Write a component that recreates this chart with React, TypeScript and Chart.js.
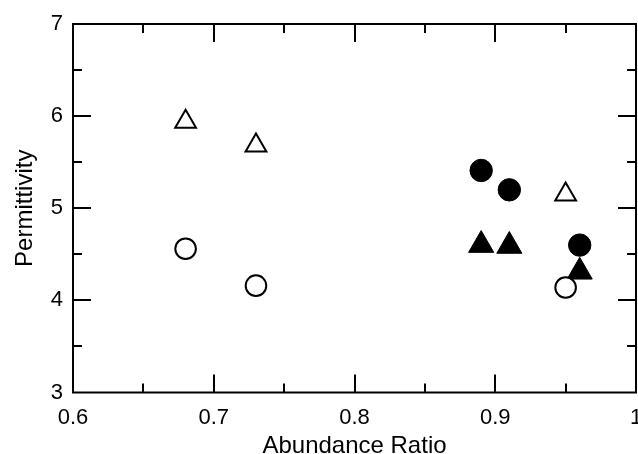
import React, { useEffect, useRef } from "react";
import { Chart, registerables } from "chart.js";

Chart.register(...registerables);

const openCircleX = [0.68, 0.73, 0.95];
const openCircleY = [4.56, 4.16, 4.14];
const openTriangleX = [0.68, 0.73, 0.95];
const openTriangleY = [5.94, 5.68, 5.15];
const filledCircleX = [0.89, 0.91, 0.96];
const filledCircleY = [5.41, 5.2, 4.6];
const filledTriangleX = [0.89, 0.91, 0.96];
const filledTriangleY = [4.6, 4.59, 4.31];

const xTickValues = [0.6, 0.7, 0.8, 0.9, 1.0];
const xTickLabels = ["0.6", "0.7", "0.8", "0.9", "1"];
const xMinorTicks = [0.65, 0.75, 0.85, 0.95];
const yTickValues = [3, 4, 5, 6, 7];
const yTickLabels = ["3", "4", "5", "6", "7"];
const yMinorTicks = [3.5, 4.5, 5.5, 6.5];

const xTitle = "Abundance Ratio";
const yTitle = "Permittivity";

const FONT = "'Liberation Sans', Arial, Helvetica, sans-serif";

const toPoints = (xs: number[], ys: number[]) => xs.map((x, i) => ({ x, y: ys[i] }));

const framePlugin = {
  id: "frame",
  afterDraw(chart: any) {
    const { ctx, chartArea } = chart;
    const { left, right, top, bottom } = chartArea;
    const xs = chart.scales.x;
    const ys = chart.scales.y;
    ctx.save();
    ctx.strokeStyle = "#000";
    ctx.lineWidth = 2;
    ctx.strokeRect(left, top, right - left, bottom - top);
    ctx.beginPath();
    const major = 18;
    const minor = 9;
    const xt = (vals: number[], len: number) => {
      for (const v of vals) {
        const px = Math.round(xs.getPixelForValue(v));
        ctx.moveTo(px, bottom);
        ctx.lineTo(px, bottom - len);
        ctx.moveTo(px, top);
        ctx.lineTo(px, top + len);
      }
    };
    const yt = (vals: number[], len: number) => {
      for (const v of vals) {
        const py = Math.round(ys.getPixelForValue(v));
        ctx.moveTo(left, py);
        ctx.lineTo(left + len, py);
        ctx.moveTo(right, py);
        ctx.lineTo(right - len, py);
      }
    };
    xt(xTickValues.slice(1, -1), major);
    xt(xMinorTicks, minor);
    yt(yTickValues.slice(1, -1), major);
    yt(yMinorTicks, minor);
    ctx.stroke();
    ctx.restore();
  },
};

export default function App() {
  const ref = useRef<HTMLCanvasElement | null>(null);
  useEffect(() => {
    document.body.style.margin = "0";
    const canvas = ref.current!;
    const chart = new Chart(canvas, {
      type: "scatter",
      data: {
        datasets: [
          {
            label: "open circles",
            data: toPoints(openCircleX, openCircleY),
            pointStyle: "circle",
            pointRadius: 10.3,
            borderWidth: 2,
            borderColor: "#000",
            backgroundColor: "#fff",
          },
          {
            label: "open triangles",
            data: toPoints(openTriangleX, openTriangleY),
            pointStyle: "triangle",
            pointRadius: 12,
            borderWidth: 2,
            borderColor: "#000",
            backgroundColor: "#fff",
          },
          {
            label: "filled circles",
            data: toPoints(filledCircleX, filledCircleY),
            pointStyle: "circle",
            pointRadius: 11.2,
            borderWidth: 1,
            borderColor: "#000",
            backgroundColor: "#000",
          },
          {
            label: "filled triangles",
            data: toPoints(filledTriangleX, filledTriangleY),
            pointStyle: "triangle",
            pointRadius: 14.5,
            borderWidth: 1,
            borderColor: "#000",
            backgroundColor: "#000",
          },
        ],
      },
      options: {
        responsive: false,
        animation: false,
        layout: { autoPadding: false, padding: { left: 0, top: 24, right: 2, bottom: 0 } },
        plugins: { legend: { display: false }, tooltip: { enabled: false } },
        scales: {
          x: {
            type: "linear",
            min: 0.6,
            max: 1.0,
            grid: { display: false, drawTicks: false, tickLength: 0 },
            border: { display: false },
            afterBuildTicks: (s: any) => {
              s.ticks = xTickValues.map((v) => ({ value: v }));
            },
            afterFit: (s: any) => {
              s.height = 61.5;
              s.paddingLeft = 0;
              s.paddingRight = 0;
            },
            ticks: {
              padding: 12,
              color: "#000",
              maxRotation: 0,
              autoSkip: false,
              font: { family: FONT, size: 22 },
              callback: (v: any) => {
                const i = xTickValues.findIndex((t) => Math.abs(t - Number(v)) < 1e-9);
                return i >= 0 ? xTickLabels[i] : "";
              },
            },
            title: {
              display: true,
              text: xTitle,
              color: "#000",
              font: { family: FONT, size: 24, lineHeight: 1 },
              padding: { top: 0, bottom: -4.5 },
            },
          },
          y: {
            type: "linear",
            min: 3,
            max: 7,
            grid: { display: false, drawTicks: false, tickLength: 0 },
            border: { display: false },
            afterBuildTicks: (s: any) => {
              s.ticks = yTickValues.map((v) => ({ value: v }));
            },
            afterFit: (s: any) => {
              s.width = 73;
              s.paddingTop = 0;
              s.paddingBottom = 0;
            },
            ticks: {
              padding: 10,
              color: "#000",
              autoSkip: false,
              font: { family: FONT, size: 22 },
              callback: (v: any) => {
                const i = yTickValues.findIndex((t) => Math.abs(t - Number(v)) < 1e-9);
                return i >= 0 ? yTickLabels[i] : "";
              },
            },
            title: {
              display: true,
              text: yTitle,
              color: "#000",
              font: { family: FONT, size: 24, lineHeight: 1.2 },
              padding: { top: 11, bottom: 0 },
            },
          },
        },
      },
      plugins: [framePlugin],
    } as any);
    return () => chart.destroy();
  }, []);
  return <canvas ref={ref} width={638} height={454} style={{ display: "block" }} />;
}
